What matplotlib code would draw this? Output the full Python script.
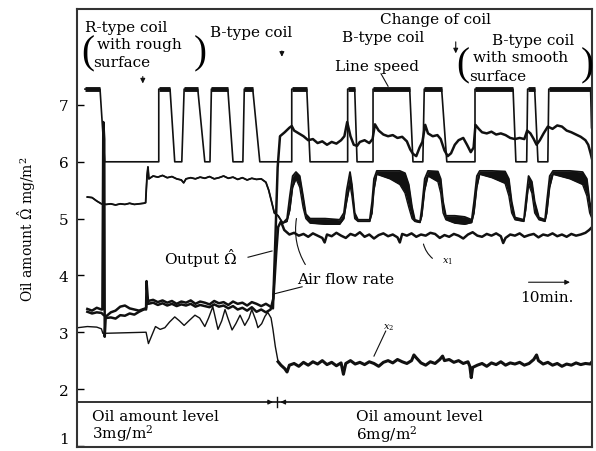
import numpy as np
import matplotlib.pyplot as plt

plt.rcParams['font.family'] = 'DejaVu Serif'
plt.rcParams['mathtext.fontset'] = 'dejavuserif'

# time in minutes, values on the oil amount scale (mg/m2)
# line speed: square wave
speed = [(1.5, 7.28), (4.7, 7.28), (5.7, 6.0), (17.2, 6.0), (17.2, 7.28), (19.6, 7.28),
         (20.6, 6.0), (22.1, 6.0), (22.6, 7.28), (25.5, 7.28), (27.0, 6.0), (28.1, 6.0),
         (28.4, 7.28), (31.9, 7.28), (33.0, 6.0), (35.1, 6.0), (35.4, 7.28), (37.2, 7.28),
         (38.7, 6.0), (45.5, 6.0), (45.5, 7.28), (48.7, 7.28), (49.4, 6.0), (57.4, 6.0),
         (57.4, 7.28), (58.9, 7.28), (59.4, 6.0), (62.8, 6.0), (62.8, 7.28), (70.6, 7.28),
         (71.3, 6.0), (73.4, 6.0), (73.7, 7.28), (77.4, 7.28), (78.5, 6.0), (84.5, 6.0),
         (84.5, 7.28), (92.6, 7.28), (93.2, 6.0), (95.5, 6.0), (95.7, 7.28), (97.2, 7.28),
         (97.9, 6.0), (100.0, 6.0), (100.2, 7.28), (109.1, 7.28), (109.3, 6.6)]

# output Omega-hat
omega = [(2, 3.41), (3, 3.38), (4, 3.43), (5, 3.40), (5.2, 3.40), (5.4, 6.70), (5.6, 6.40),
         (5.7, 2.92), (5.9, 3.25), (7, 3.26), (8, 3.24), (9, 3.30), (10, 3.29), (11, 3.33),
         (12, 3.31), (13, 3.36), (14, 3.40), (14.5, 3.43), (14.6, 3.90), (14.9, 3.55),
         (16, 3.57), (17, 3.53), (18, 3.56), (19, 3.52), (20, 3.55), (21, 3.50), (22, 3.54),
         (23, 3.52), (24, 3.56), (25, 3.50), (26, 3.54), (27, 3.52), (28, 3.49), (29, 3.55),
         (30, 3.51), (31, 3.53), (32, 3.48), (33, 3.54), (34, 3.50), (35, 3.52), (36, 3.47),
         (37, 3.53), (38, 3.50), (39, 3.46), (40, 3.50), (41, 3.45), (41.5, 3.42), (42, 4.6),
         (42.5, 5.9), (43, 6.45), (44, 6.52), (45, 6.60), (45.5, 6.63), (46, 6.55), (47, 6.50),
         (48, 6.45), (49, 6.38), (50, 6.40), (51, 6.33), (52, 6.36), (53, 6.30), (54, 6.35),
         (55, 6.32), (56, 6.38), (56.7, 6.45), (57.3, 6.70), (58, 6.45), (58.7, 6.30),
         (59.4, 6.28), (60, 6.35), (61, 6.38), (62, 6.33), (62.7, 6.40), (63.2, 6.66),
         (64, 6.55), (65, 6.48), (66, 6.45), (67, 6.47), (68, 6.42), (69, 6.44), (70, 6.36),
         (70.7, 6.22), (71.3, 6.14), (72, 6.10), (72.7, 6.25), (73.3, 6.35), (73.9, 6.65),
         (74.5, 6.50), (75.5, 6.45), (76.5, 6.47), (77.2, 6.40), (78, 6.20), (78.7, 6.10),
         (79.4, 6.15), (80.2, 6.30), (81, 6.38), (82, 6.42), (82.8, 6.30), (83.6, 6.17),
         (84.2, 6.25), (84.6, 6.65), (85.3, 6.58), (86, 6.52), (87, 6.50), (88, 6.53),
         (89, 6.48), (90, 6.50), (91, 6.47), (92, 6.42), (93, 6.40), (94, 6.42), (95, 6.40),
         (95.6, 6.55), (96.3, 6.50), (97, 6.40), (97.6, 6.30), (98.3, 6.38), (99.1, 6.50),
         (100, 6.62), (101, 6.58), (102, 6.64), (103, 6.62), (104, 6.55), (105, 6.52),
         (106, 6.48), (107, 6.44), (108, 6.38), (108.6, 6.30), (109.1, 6.15), (109.4, 6.05)]

# air flow rate: (t, outer edge, inner edge)
air = [(2, 5.38, 5.38), (3, 5.37, 5.37), (4, 5.31, 5.31), (5, 5.26, 5.26), (6, 5.25, 5.25),
       (7, 5.26, 5.26), (8, 5.24, 5.24), (9, 5.26, 5.26), (10, 5.25, 5.25), (11, 5.27, 5.27),
       (12, 5.25, 5.25), (13, 5.26, 5.26), (14, 5.27, 5.27), (14.4, 5.28, 5.28),
       (14.7, 5.75, 5.75), (14.9, 5.91, 5.91), (15.1, 5.70, 5.70), (16, 5.75, 5.75),
       (17, 5.73, 5.73), (18, 5.76, 5.76), (19, 5.72, 5.72), (20, 5.74, 5.74), (21, 5.70, 5.70),
       (22, 5.68, 5.68), (22.5, 5.63, 5.63), (23, 5.70, 5.70), (24, 5.72, 5.72),
       (25, 5.70, 5.70), (26, 5.73, 5.73), (27, 5.71, 5.71), (28, 5.74, 5.74), (29, 5.70, 5.70),
       (30, 5.72, 5.72), (31, 5.75, 5.75), (32, 5.71, 5.71), (33, 5.73, 5.73), (34, 5.69, 5.69),
       (35, 5.72, 5.72), (36, 5.68, 5.68), (37, 5.71, 5.71), (38, 5.69, 5.69), (39, 5.70, 5.70),
       (40, 5.64, 5.64), (40.6, 5.50, 5.50), (41.2, 5.30, 5.30), (41.8, 5.10, 5.10),
       (42.6, 5.05, 5.05), (43.6, 4.92, 4.92), (44.5, 5.00, 4.95), (45.1, 5.40, 5.15),
       (45.7, 5.75, 5.55), (46.4, 5.82, 5.70), (47.2, 5.75, 5.55), (47.9, 5.40, 5.20),
       (48.5, 5.08, 5.00), (49.4, 5.00, 4.92), (52.6, 5.00, 4.90), (55.7, 4.98, 4.90),
       (56.6, 5.10, 5.00), (57.2, 5.50, 5.30), (57.9, 5.82, 5.60), (58.3, 5.60, 5.40),
       (58.9, 5.10, 5.00), (59.6, 4.98, 4.95), (62.1, 4.98, 4.95), (62.6, 5.30, 5.10),
       (63.0, 5.70, 5.50), (63.6, 5.84, 5.78), (66.4, 5.84, 5.70), (68.5, 5.84, 5.60),
       (69.6, 5.80, 5.45), (70.4, 5.60, 5.20), (71.1, 5.20, 5.00), (71.7, 4.98, 4.95),
       (72.8, 4.95, 4.93), (73.2, 5.20, 5.05), (73.8, 5.70, 5.50), (74.5, 5.84, 5.75),
       (76.6, 5.83, 5.65), (77.2, 5.70, 5.45), (77.7, 5.30, 5.10), (78.3, 5.05, 4.98),
       (80.2, 5.05, 4.92), (82.3, 5.03, 4.90), (83.8, 4.98, 4.93), (84.3, 5.30, 5.10),
       (84.9, 5.75, 5.55), (85.5, 5.84, 5.78), (88.1, 5.84, 5.72), (90.9, 5.83, 5.62),
       (91.7, 5.70, 5.40), (92.3, 5.30, 5.10), (93.0, 5.02, 4.98), (94.9, 4.98, 4.95),
       (95.3, 5.30, 5.15), (95.9, 5.75, 5.60), (96.6, 5.65, 5.45), (97.2, 5.30, 5.10),
       (98.1, 5.02, 4.98), (99.4, 4.98, 4.95), (99.8, 5.30, 5.10), (100.4, 5.75, 5.55),
       (101.1, 5.84, 5.78), (104.7, 5.84, 5.70), (107.4, 5.82, 5.60), (108.3, 5.70, 5.40),
       (108.9, 5.30, 5.10), (109.4, 5.10, 5.00)]

# sensor x1
x1 = [(2, 3.36), (3, 3.33), (4, 3.35), (5, 3.34), (5.5, 3.30), (6, 3.28), (7, 3.35), (8, 3.38),
      (9, 3.45), (10, 3.47), (11, 3.42), (12, 3.40), (13, 3.38), (14, 3.41), (14.5, 3.40),
      (14.7, 3.62), (15, 3.50), (16, 3.52), (17, 3.48), (18, 3.51), (19, 3.47), (20, 3.50),
      (21, 3.46), (22, 3.49), (23, 3.47), (24, 3.50), (25, 3.45), (26, 3.48), (27, 3.46),
      (28, 3.44), (29, 3.49), (30, 3.45), (31, 3.47), (32, 3.42), (33, 3.46), (34, 3.40),
      (35, 3.43), (36, 3.38), (37, 3.44), (38, 3.36), (39, 3.40), (40, 3.35), (41, 3.40),
      (41.6, 3.60), (42.2, 4.40), (42.6, 4.85), (43.2, 4.95), (43.9, 4.80), (45, 4.72),
      (46, 4.75), (47, 4.70), (48, 4.73), (49, 4.68), (50, 4.74), (51, 4.70), (52, 4.66),
      (52.5, 4.58), (53, 4.72), (54, 4.69), (55, 4.75), (56, 4.70), (57, 4.66), (58, 4.73),
      (59, 4.70), (60, 4.76), (61, 4.68), (62, 4.72), (63, 4.65), (64, 4.71), (65, 4.74),
      (66, 4.69), (67, 4.72), (68, 4.67), (68.5, 4.58), (69, 4.73), (70, 4.70), (71, 4.74),
      (72, 4.68), (73, 4.72), (74, 4.70), (75, 4.75), (76, 4.73), (77, 4.66), (78, 4.71),
      (79, 4.68), (80, 4.73), (81, 4.70), (82, 4.65), (83, 4.72), (84, 4.76), (85, 4.70),
      (86, 4.68), (87, 4.73), (88, 4.70), (89, 4.74), (90, 4.69), (90.5, 4.57), (91, 4.66),
      (92, 4.72), (93, 4.70), (94, 4.74), (95, 4.68), (96, 4.71), (97, 4.73), (98, 4.67),
      (99, 4.72), (100, 4.70), (101, 4.74), (102, 4.69), (103, 4.72), (104, 4.68), (105, 4.73),
      (106, 4.70), (107, 4.72), (108, 4.75), (108.8, 4.80), (109.4, 4.85)]

# sensor x2
x2 = [(0, 3.08), (2, 3.10), (4, 3.09), (5, 3.06), (5.3, 2.98), (14.5, 3.00), (15, 2.80),
      (15.5, 2.90), (16.5, 3.10), (17.5, 3.05), (18.5, 3.08), (19.5, 3.18), (20.6, 3.27),
      (21.6, 3.20), (22.6, 3.12), (23.6, 3.20), (24.9, 3.30), (25.9, 3.25), (27, 3.10),
      (27.8, 3.25), (28.7, 3.45), (29.8, 3.05), (30.6, 3.20), (31.3, 3.40), (31.9, 3.25),
      (32.8, 3.04), (33.6, 3.15), (34.5, 3.30), (35.5, 3.12), (36.4, 3.25), (37, 3.40),
      (37.9, 3.20), (38.3, 3.08), (39.1, 3.15), (39.8, 3.28), (40.4, 3.35), (41.1, 3.25),
      (41.5, 3.05), (42, 2.75), (42.6, 2.48), (43.2, 2.42), (44, 2.36), (44.5, 2.30),
      (45, 2.42), (46, 2.45), (47, 2.40), (48, 2.47), (49, 2.42), (50, 2.48), (51, 2.44),
      (52, 2.50), (53, 2.43), (54, 2.47), (55, 2.41), (56, 2.46), (56.5, 2.26), (57, 2.45),
      (58, 2.50), (59, 2.44), (60, 2.47), (61, 2.43), (62, 2.48), (63, 2.45), (64, 2.40),
      (65, 2.47), (66, 2.50), (67, 2.46), (68, 2.52), (69, 2.48), (70, 2.45), (71, 2.50),
      (71.5, 2.60), (72, 2.55), (73, 2.46), (74, 2.42), (75, 2.48), (76, 2.45), (77, 2.52),
      (77.6, 2.58), (78, 2.50), (79, 2.52), (80, 2.47), (81, 2.50), (82, 2.45), (83, 2.48),
      (83.4, 2.40), (83.7, 2.20), (84, 2.38), (85, 2.42), (86, 2.45), (87, 2.40), (88, 2.46),
      (89, 2.43), (90, 2.48), (91, 2.42), (92, 2.46), (93, 2.44), (94, 2.47), (95, 2.42),
      (96, 2.45), (97, 2.52), (97.6, 2.60), (98, 2.50), (99, 2.44), (100, 2.47), (101, 2.42),
      (102, 2.45), (103, 2.40), (104, 2.44), (105, 2.42), (106, 2.46), (107, 2.43),
      (108, 2.45), (109, 2.44), (109.4, 2.48)]

yticks = [1, 2, 3, 4, 5, 6, 7]

sp_t, sp_v = np.array(speed).T
om_t, om_v = np.array(omega).T
air_t, air_hi, air_lo = np.array(air).T
x1_t, x1_v = np.array(x1).T
x2_t, x2_v = np.array(x2).T

fig = plt.figure(figsize=(5.96, 4.52), dpi=100)
ax = fig.add_axes([0.1292, 0.0089, 0.8641, 0.969])

ink = '#111111'
ax.plot(sp_t, sp_v, color=ink, lw=1.2)
ax.plot(sp_t, np.ma.masked_less(sp_v, 7.0), color=ink, lw=3.5, solid_capstyle='butt')

ax.fill_between(air_t, air_lo, air_hi, color=ink, lw=0)
ax.plot(air_t, air_hi, color=ink, lw=1.3)
ax.plot(air_t, air_lo, color=ink, lw=1.0)

ax.plot(om_t, om_v, color=ink, lw=1.8)
ax.plot(x1_t, x1_v, color=ink, lw=1.8)
ax.plot(x2_t, x2_v, color=ink, lw=1.0)
right = x2_t >= 42.6
ax.plot(x2_t[right], x2_v[right], color=ink, lw=2.2)

ax.set_xlim(-0.2, 109.4)
ax.set_ylim(0.98, 8.69)
ax.set_xticks([])
ax.set_yticks(yticks)
ax.tick_params(axis='y', direction='in', length=5, width=1, labelsize=11, pad=6)
ax.get_yticklabels()[0].set_verticalalignment('bottom')
for s in ax.spines.values():
    s.set_linewidth(1.5)
    s.set_color('#333333')
ax.set_ylabel('Oil amount $\\hat{\\Omega}$ mg/m$^2$', fontsize=10)
ax.yaxis.set_label_coords(-0.075, 0.5)

fs = 11
arr = dict(arrowstyle='-|>', color=ink, lw=0.8, mutation_scale=7)

# top annotations
ax.text(1.5, 8.37, 'R-type coil', fontsize=fs, va='center')
ax.text(4.0, 8.07, 'with rough', fontsize=fs, va='center')
ax.text(3.3, 7.76, 'surface', fontsize=fs, va='center')
ax.text(2.0, 7.92, '(', fontsize=28, family='Liberation Serif', ha='center', va='center')
ax.text(26.0, 7.92, ')', fontsize=28, family='Liberation Serif', ha='center', va='center')
ax.annotate('', xy=(13.8, 7.33), xytext=(13.8, 7.55), arrowprops=arr)

ax.text(28.1, 8.29, 'B-type coil', fontsize=fs, va='center')
ax.annotate('', xy=(43.4, 7.80), xytext=(43.4, 8.00), arrowprops=arr)

ax.text(76.0, 8.51, 'Change of coil', fontsize=fs, ha='center', va='center')
ax.annotate('', xy=(80.4, 7.86), xytext=(80.4, 8.16), arrowprops=arr)
ax.text(64.9, 8.20, 'B-type coil', fontsize=fs, ha='center', va='center')
ax.text(63.6, 7.69, 'Line speed', fontsize=fs, ha='center', va='center')
ax.plot([64.5, 66.0], [7.55, 7.33], color=ink, lw=0.8)

ax.text(96.8, 8.14, 'B-type coil', fontsize=fs, ha='center', va='center')
ax.text(84.0, 7.85, 'with smooth', fontsize=fs, va='center')
ax.text(83.3, 7.51, 'surface', fontsize=fs, va='center')
ax.text(81.9, 7.70, '(', fontsize=28, family='Liberation Serif', ha='center', va='center')
ax.text(108.4, 7.70, ')', fontsize=28, family='Liberation Serif', ha='center', va='center')

# curve labels
ax.text(33.8, 4.32, 'Output $\\hat{\\Omega}$', fontsize=fs, ha='right', va='center')
ax.plot([36.2, 41.3], [4.32, 4.43], color=ink, lw=0.8)
ax.text(46.6, 3.94, 'Air flow rate', fontsize=fs, va='center')
ax.annotate('', xy=(46.6, 5.05), xytext=(48.7, 4.15),
            arrowprops=dict(arrowstyle='-', color=ink, lw=0.8, connectionstyle='arc3,rad=-0.2'))
ax.plot([47.7, 41.5], [3.80, 3.67], color=ink, lw=0.8)
ax.text(77.5, 4.25, '$x_1$', fontsize=7, va='center')
ax.annotate('', xy=(73.4, 4.60), xytext=(75.9, 4.27),
            arrowprops=dict(arrowstyle='-', color=ink, lw=0.8, connectionstyle='arc3,rad=-0.2'))
ax.text(66.2, 3.09, '$x_2$', fontsize=7, ha='center', va='center')
ax.plot([65.5, 63.0], [3.02, 2.58], color=ink, lw=0.8)

ax.text(99.8, 3.62, '10min.', fontsize=fs, ha='center', va='center')
ax.annotate('', xy=(105.3, 3.88), xytext=(95.3, 3.88), arrowprops=arr)

# bottom band
ax.axhline(1.77, color=ink, lw=1.2)
ax.annotate('', xy=(42.1, 1.77), xytext=(39.8, 1.77), arrowprops=arr)
ax.annotate('', xy=(42.5, 1.77), xytext=(44.8, 1.77), arrowprops=arr)
ax.plot([42.3, 42.3], [1.68, 1.86], color=ink, lw=1.0)
ax.text(3.0, 1.52, 'Oil amount level', fontsize=fs, va='center')
ax.text(3.0, 1.24, '3mg/m$^2$', fontsize=fs, va='center')
ax.text(59.1, 1.52, 'Oil amount level', fontsize=fs, va='center')
ax.text(59.1, 1.21, '6mg/m$^2$', fontsize=fs, va='center')

fig.savefig('out.png', dpi=100)
